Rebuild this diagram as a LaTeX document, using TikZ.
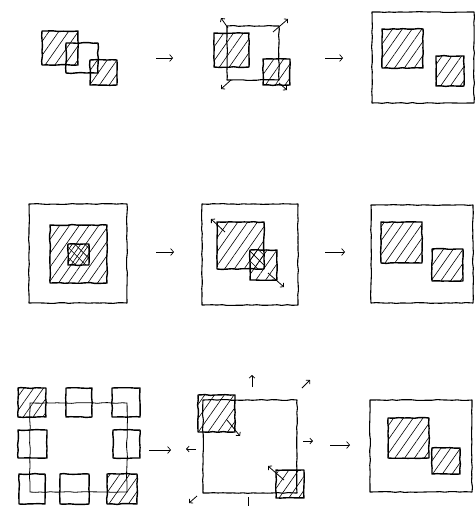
\documentclass[tikz,border=0pt]{standalone}
\usetikzlibrary{arrows.meta,patterns.meta,decorations.pathmorphing}
\tikzset{
  sketch/.style={decorate, decoration={random steps, segment length=5pt, amplitude=0.45pt}},
  sqbox/.style={draw=black, line width=1.4pt, inner sep=0pt, outer sep=0pt, line join=round, sketch},
  hatch/.style={sqbox, pattern={Lines[angle=55,distance=8pt,line width=0.6pt]}},
  cross/.style={sqbox, pattern={Lines[angle=55,distance=7pt,line width=0.6pt]}, postaction={pattern={Lines[angle=-45,distance=7pt,line width=0.6pt]}}},
  frame/.style={draw=black, line width=1.1pt, inner sep=0pt, outer sep=0pt, line join=round, sketch},
  thinframe/.style={draw=black, line width=0.8pt, inner sep=0pt, outer sep=0pt, sketch},
  flow/.style={line width=0.7pt, -{Straight Barb[length=3pt,width=7pt]}},
  small/.style={line width=0.8pt, -{Straight Barb[length=2.5pt,width=5.5pt]}}
}
\newcommand\sqn[6]{\node[#6, minimum width={#4-#2}, minimum height={#5-#3}] (#1) at ({(#2+#4)/2},{(#3+#5)/2}) {};}
\begin{document}
\begin{tikzpicture}[x=1pt,y=-1pt]
\pgfmathsetseed{7}
\useasboundingbox (0,0) rectangle (475,506);
% ---------- Row 1 ----------
\sqn{a1}{42}{31}{78}{65}{hatch}
\sqn{b1}{66}{43}{98}{73}{sqbox}
\sqn{c1}{90}{60}{117}{85}{hatch}
\coordinate (r1s) at (156,58); \coordinate (r1e) at (173,58);
\draw[flow] (r1s) -- (r1e);

\sqn{a2}{214}{33}{249}{67}{hatch}
\sqn{f2}{227}{26}{279}{80}{frame}
\sqn{c2}{263}{59}{290}{85}{hatch}
\coordinate (p2a) at (228,28); \coordinate (q2a) at (221,18);
\coordinate (p2b) at (273,32); \coordinate (q2b) at (288,19);
\coordinate (p2c) at (231,80); \coordinate (q2c) at (221,89);
\coordinate (p2d) at (279,83); \coordinate (q2d) at (287,90);
\draw[small] (p2a) -- (q2a);
\draw[small] (p2b) -- (q2b);
\draw[small] (p2c) -- (q2c);
\draw[small] (p2d) -- (q2d);
\coordinate (r2s) at (325,58); \coordinate (r2e) at (343,58);
\draw[flow] (r2s) -- (r2e);

\sqn{f3}{372}{12}{474}{103}{frame}
\sqn{a3}{382}{29}{423}{68}{hatch}
\sqn{c3}{436}{56}{464}{86}{hatch}

% ---------- Row 2 ----------
\sqn{f4}{29}{204}{127}{303}{frame}
\sqn{a4}{50}{225}{107}{283}{hatch}
\sqn{c4}{68}{244}{89}{265}{cross}
\coordinate (r3s) at (156,252); \coordinate (r3e) at (174,252);
\draw[flow] (r3s) -- (r3e);

\sqn{f5}{202}{204}{298}{305}{frame}
\sqn{a5}{217}{222}{264}{269}{hatch}
\sqn{c5}{250}{250}{277}{280}{hatch}
\fill[pattern={Lines[angle=-45,distance=7pt,line width=0.6pt]}] (250,250) rectangle (264,269);
\coordinate (p5a) at (225,232); \coordinate (q5a) at (211,219);
\coordinate (p5b) at (268,273); \coordinate (q5b) at (284,287);
\draw[small] (p5a) -- (q5a);
\draw[small] (p5b) -- (q5b);
\coordinate (r4s) at (325,252); \coordinate (r4e) at (345,252);
\draw[flow] (r4s) -- (r4e);

\sqn{f6}{371}{205}{473}{303}{frame}
\sqn{a6}{381}{222}{422}{263}{hatch}
\sqn{c6}{432}{249}{463}{281}{hatch}

% ---------- Row 3 ----------
\sqn{g0}{30}{403}{127}{492}{thinframe}
\sqn{s1}{18}{388}{46}{417}{hatch}
\sqn{s2}{66}{388}{92}{417}{sqbox}
\sqn{s3}{112}{388}{140}{417}{sqbox}
\sqn{s4}{18}{430}{47}{458}{sqbox}
\sqn{s5}{113}{430}{140}{458}{sqbox}
\sqn{s6}{19}{474}{45}{504}{sqbox}
\sqn{s7}{60}{474}{89}{504}{sqbox}
\sqn{s8}{107}{474}{137}{504}{hatch}
\coordinate (r5s) at (149,450); \coordinate (r5e) at (171,450);
\draw[flow] (r5s) -- (r5e);

\sqn{f8}{203}{400}{297}{493}{frame}
\sqn{a8}{198}{395}{235}{432}{hatch}
\sqn{c8}{276}{470}{304}{498}{hatch}
\coordinate (p8a) at (252,387); \coordinate (q8a) at (252,375);
\coordinate (p8b) at (302,388); \coordinate (q8b) at (310,380);
\coordinate (p8c) at (303,441); \coordinate (q8c) at (313,441);
\coordinate (p8d) at (196,449); \coordinate (q8d) at (186,449);
\coordinate (p8e) at (197,496); \coordinate (q8e) at (189,503);
\coordinate (p8f) at (248,497); \coordinate (q8f) at (248,512);
\coordinate (p8g) at (227,420); \coordinate (q8g) at (240,436);
\coordinate (p8h) at (284,480); \coordinate (q8h) at (268,466);
\foreach \p/\q in {p8a/q8a,p8b/q8b,p8c/q8c,p8d/q8d,p8e/q8e,p8f/q8f,p8g/q8g,p8h/q8h}
  \draw[small] (\p) -- (\q);
\coordinate (r6s) at (330,445); \coordinate (r6e) at (350,445);
\draw[flow] (r6s) -- (r6e);

\sqn{f9}{370}{400}{472}{492}{frame}
\sqn{a9}{388}{418}{429}{458}{hatch}
\sqn{c9}{432}{448}{460}{474}{hatch}
\end{tikzpicture}
\end{document}
